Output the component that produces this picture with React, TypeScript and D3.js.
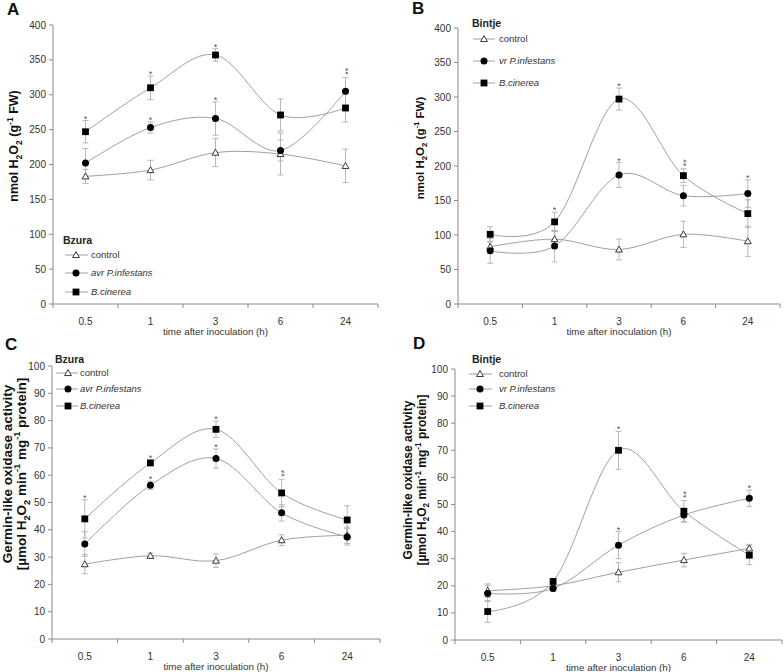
import React from "react";
import * as d3 from "d3";

const categories = ["0.5", "1", "3", "6", "24"];

// Panel A (Bzura, H2O2)
const aControl = [183, 192, 217, 215, 198];
const aControlErr = [10, 14, 20, 30, 24];
const aAvr = [202, 253, 266, 220, 305];
const aAvrErr = [21, 8, 24, 15, 20];
const aCin = [247, 310, 357, 271, 281];
const aCinErr = [16, 17, 9, 23, 20];
const aAvrSig = [0, 1, 1, 0, 2];
const aCinSig = [1, 1, 1, 0, 0];

// Panel B (Bintje, H2O2)
const bControl = [83, 94, 79, 101, 91];
const bControlErr = [8, 12, 15, 19, 22];
const bVr = [77, 84, 187, 157, 160];
const bVrErr = [18, 23, 18, 15, 20];
const bCin = [101, 119, 297, 186, 131];
const bCinErr = [11, 14, 16, 10, 20];
const bVrSig = [0, 0, 1, 0, 1];
const bCinSig = [0, 1, 1, 2, 0];

// Panel C (Bzura, germin-like oxidase)
const cControl = [27.4, 30.5, 28.7, 36.2, 38];
const cControlErr = [3.5, 1, 2.5, 2, 3];
const cAvr = [34.8, 56.3, 66.1, 46.2, 37.4];
const cAvrErr = [4.5, 1.5, 3.5, 3, 3];
const cCin = [44, 64.5, 76.8, 53.5, 43.6];
const cCinErr = [7, 1, 3, 5, 5.2];
const cAvrSig = [0, 1, 1, 0, 0];
const cCinSig = [1, 1, 1, 2, 0];

// Panel D (Bintje, germin-like oxidase)
const dControl = [18.2, 20, 25, 29.5, 33.8];
const dControlErr = [2.5, 1, 3.5, 2.5, 1.5];
const dVr = [17.2, 19, 35, 46.1, 52.3];
const dVrErr = [3, 1, 5, 2.5, 3];
const dCin = [10.5, 21.6, 70, 47.5, 31.3];
const dCinErr = [4, 1, 7, 4, 3.5];
const dVrSig = [0, 0, 1, 0, 1];
const dCinSig = [0, 0, 1, 2, 0];

const h2o2Ticks = [0, 50, 100, 150, 200, 250, 300, 350, 400];
const germinTicks = [0, 10, 20, 30, 40, 50, 60, 70, 80, 90, 100];

const FONT = "'Liberation Sans', Arial, sans-serif";
const zeros = [0, 0, 0, 0, 0];

type Part = { t: string; sub?: boolean; sup?: boolean };

function Rich({ parts, size }: { parts: Part[]; size: number }) {
  const out: React.ReactNode[] = [];
  let shift = 0;
  parts.forEach((p, i) => {
    const target = p.sub ? size * 0.3 : p.sup ? -size * 0.38 : 0;
    const dy = target - shift;
    shift = target;
    out.push(
      <tspan key={i} dy={dy} fontSize={p.sub || p.sup ? size * 0.68 : size}>
        {p.t}
      </tspan>
    );
  });
  return <>{out}</>;
}

type Series = {
  kind: "tri" | "circle" | "square";
  label: string;
  italic: boolean;
  values: number[];
  errs: number[];
  sig: number[];
};

function Marker({ kind, x, y }: { kind: string; x: number; y: number }) {
  if (kind === "square") return <rect x={x - 3.4} y={y - 3.4} width={6.8} height={6.8} fill="#000" />;
  if (kind === "circle") return <circle cx={x} cy={y} r={3.5} fill="#000" />;
  const s = 3.4;
  return (
    <path
      d={`M${x},${y - s} L${x + s},${y + s * 0.75} L${x - s},${y + s * 0.75} Z`}
      fill="#fff"
      stroke="#222"
      strokeWidth={0.9}
    />
  );
}

type PanelProps = {
  letter: string;
  letterX: number;
  letterY: number;
  left: number;
  right: number;
  top: number;
  bottom: number;
  yMax: number;
  yTicks: number[];
  series: Series[];
  titleLines: Part[][];
  titleXs: number[];
  titleY: number;
  titleSize: number;
  legendTitle: string;
  legendX: number;
  legendTitleY: number;
  legendRows: number[];
  legendLine: [number, number];
  legendMarkerX: number;
  legendTextX: number;
};

function Panel(p: PanelProps) {
  const x = d3.scaleBand<string>().domain(categories).range([p.left, p.right]);
  const y = d3.scaleLinear().domain([0, p.yMax]).range([p.bottom, p.top]);
  const cx = (c: string) => (x(c) as number) + x.bandwidth() / 2;
  const line = d3
    .line<number>()
    .x((_, i) => cx(categories[i]))
    .y((v) => y(v))
    .curve(d3.curveCatmullRom.alpha(0));
  const bounds = [...categories.map((c) => x(c) as number), p.right];
  const axisColor = "#8a8a8a";
  return (
    <g fontFamily={FONT}>
      <text x={p.letterX} y={p.letterY} fontSize={17} fontWeight="bold" fill="#111">
        {p.letter}
      </text>
      {/* axes */}
      <line x1={p.left} x2={p.left} y1={p.top} y2={p.bottom} stroke={axisColor} />
      <line x1={p.left} x2={p.right} y1={p.bottom} y2={p.bottom} stroke={axisColor} />
      {p.yTicks.map((t) => (
        <g key={t}>
          <line x1={p.left - 4} x2={p.left} y1={y(t)} y2={y(t)} stroke={axisColor} />
          <text x={p.left - 7} y={y(t)} dy="0.35em" textAnchor="end" fontSize={10} fill="#333">
            {t}
          </text>
        </g>
      ))}
      {bounds.map((b, i) => (
        <line key={i} x1={b} x2={b} y1={p.bottom} y2={p.bottom + 4} stroke={axisColor} />
      ))}
      {categories.map((c) => (
        <text key={c} x={cx(c)} y={p.bottom + 21} textAnchor="middle" fontSize={10} fill="#333">
          {c}
        </text>
      ))}
      <text
        x={(p.left + p.right) / 2}
        y={p.bottom + 30.5}
        textAnchor="middle"
        fontSize={9.8}
        fill="#333"
      >
        time after inoculation (h)
      </text>
      {/* y title */}
      {p.titleLines.map((parts, i) => (
        <text
          key={i}
          transform={`translate(${p.titleXs[i]},${p.titleY}) rotate(-90)`}
          textAnchor="middle"
          fontSize={p.titleSize}
          fontWeight="bold"
          fill="#111"
        >
          <Rich parts={parts} size={p.titleSize} />
        </text>
      ))}
      {/* curves */}
      {p.series.map((s, si) => (
        <path key={si} d={line(s.values) || ""} fill="none" stroke="#a0a0a0" strokeWidth={1} />
      ))}
      {/* error bars */}
      {p.series.map((s, si) =>
        s.values.map((v, i) => {
          const xx = cx(categories[i]);
          const y1 = y(v + s.errs[i]);
          const y2 = y(v - s.errs[i]);
          return (
            <g key={`e${si}-${i}`} stroke="#b0b0b0" strokeWidth={0.9}>
              <line x1={xx} x2={xx} y1={y1} y2={y2} />
              <line x1={xx - 3} x2={xx + 3} y1={y1} y2={y1} />
              <line x1={xx - 3} x2={xx + 3} y1={y2} y2={y2} />
            </g>
          );
        })
      )}
      {/* markers */}
      {p.series.map((s, si) =>
        s.values.map((v, i) => <Marker key={`m${si}-${i}`} kind={s.kind} x={cx(categories[i])} y={y(v)} />)
      )}
      {/* significance */}
      {p.series.map((s, si) =>
        s.sig.map((n, i) => {
          if (!n) return null;
          const top = y(s.values[i] + s.errs[i]);
          const xx = cx(categories[i]);
          if (n === 1) {
            return (
              <text key={`s${si}-${i}`} x={xx} y={top + 1} textAnchor="middle" fontSize={9} fill="#555">
                *
              </text>
            );
          }
          return (
            <text
              key={`s${si}-${i}`}
              transform={`translate(${xx + 5.1},${top - 2.5}) rotate(-90)`}
              fontSize={9}
              fill="#555"
            >
              {"*".repeat(n)}
            </text>
          );
        })
      )}
      {/* legend */}
      <text x={p.legendX} y={p.legendTitleY} fontSize={10.5} fontWeight="bold" fill="#222">
        {p.legendTitle}
      </text>
      {p.series.map((s, si) => (
        <g key={`l${si}`}>
          <line
            x1={p.legendLine[0]}
            x2={p.legendLine[1]}
            y1={p.legendRows[si]}
            y2={p.legendRows[si]}
            stroke="#a0a0a0"
          />
          <Marker kind={s.kind} x={p.legendMarkerX} y={p.legendRows[si]} />
          <text
            x={p.legendTextX}
            y={p.legendRows[si]}
            dy="0.35em"
            fontSize={9.5}
            fontStyle={s.italic ? "italic" : "normal"}
            fill="#333"
          >
            {s.label}
          </text>
        </g>
      ))}
    </g>
  );
}

const h2o2Title: Part[] = [
  { t: "nmol H" },
  { t: "2", sub: true },
  { t: "O" },
  { t: "2", sub: true },
  { t: " (g" },
  { t: "-1", sup: true },
  { t: " FW)" },
];
const germTitle1: Part[] = [{ t: "Germin-like oxidase activity" }];
const germTitle2: Part[] = [
  { t: "[µmol H" },
  { t: "2", sub: true },
  { t: "O" },
  { t: "2", sub: true },
  { t: " min" },
  { t: "-1", sup: true },
  { t: " mg" },
  { t: "-1", sup: true },
  { t: " protein]" },
];

export default function App() {
  const seriesA: Series[] = [
    { kind: "tri", label: "control", italic: false, values: aControl, errs: aControlErr, sig: zeros },
    { kind: "circle", label: "avr P.infestans", italic: true, values: aAvr, errs: aAvrErr, sig: aAvrSig },
    { kind: "square", label: "B.cinerea", italic: true, values: aCin, errs: aCinErr, sig: aCinSig },
  ];
  const seriesB: Series[] = [
    { kind: "tri", label: "control", italic: false, values: bControl, errs: bControlErr, sig: zeros },
    { kind: "circle", label: "vr P.infestans", italic: true, values: bVr, errs: bVrErr, sig: bVrSig },
    { kind: "square", label: "B.cinerea", italic: true, values: bCin, errs: bCinErr, sig: bCinSig },
  ];
  const seriesC: Series[] = [
    { kind: "tri", label: "control", italic: false, values: cControl, errs: cControlErr, sig: zeros },
    { kind: "circle", label: "avr P.infestans", italic: true, values: cAvr, errs: cAvrErr, sig: cAvrSig },
    { kind: "square", label: "B.cinerea", italic: true, values: cCin, errs: cCinErr, sig: cCinSig },
  ];
  const seriesD: Series[] = [
    { kind: "tri", label: "control", italic: false, values: dControl, errs: dControlErr, sig: zeros },
    { kind: "circle", label: "vr P.infestans", italic: true, values: dVr, errs: dVrErr, sig: dVrSig },
    { kind: "square", label: "B.cinerea", italic: true, values: dCin, errs: dCinErr, sig: dCinSig },
  ];
  return (
    <svg
      width={784}
      height={672}
      style={{ position: "absolute", left: 0, top: 0, background: "#fff" }}
    >
      <rect width={784} height={672} fill="#fff" />
      <Panel
        letter="A"
        letterX={7}
        letterY={15}
        left={53}
        right={378}
        top={25}
        bottom={304}
        yMax={400}
        yTicks={h2o2Ticks}
        series={seriesA}
        titleLines={[h2o2Title]}
        titleXs={[18]}
        titleY={146}
        titleSize={12.5}
        legendTitle="Bzura"
        legendX={63}
        legendTitleY={244}
        legendRows={[255, 273, 292]}
        legendLine={[65, 88]}
        legendMarkerX={76}
        legendTextX={91}
      />
      <Panel
        letter="B"
        letterX={412}
        letterY={14}
        left={458}
        right={780}
        top={28}
        bottom={304}
        yMax={400}
        yTicks={h2o2Ticks}
        series={seriesB}
        titleLines={[h2o2Title]}
        titleXs={[423.5]}
        titleY={148}
        titleSize={11.5}
        legendTitle="Bintje"
        legendX={472}
        legendTitleY={27}
        legendRows={[39, 61, 83]}
        legendLine={[473, 495]}
        legendMarkerX={484}
        legendTextX={499}
      />
      <Panel
        letter="C"
        letterX={5}
        letterY={350}
        left={52}
        right={380}
        top={366}
        bottom={639}
        yMax={100}
        yTicks={germinTicks}
        series={seriesC}
        titleLines={[germTitle1, germTitle2]}
        titleXs={[12, 25.5]}
        titleY={474}
        titleSize={13.5}
        legendTitle="Bzura"
        legendX={55}
        legendTitleY={363}
        legendRows={[373, 389, 406]}
        legendLine={[56, 78]}
        legendMarkerX={68}
        legendTextX={80}
      />
      <Panel
        letter="D"
        letterX={413}
        letterY={349}
        left={455}
        right={782}
        top={369}
        bottom={640}
        yMax={100}
        yTicks={germinTicks}
        series={seriesD}
        titleLines={[germTitle1, germTitle2]}
        titleXs={[411.5, 425.5]}
        titleY={480}
        titleSize={12}
        legendTitle="Bintje"
        legendX={472}
        legendTitleY={363}
        legendRows={[374, 389, 406]}
        legendLine={[469, 492]}
        legendMarkerX={480}
        legendTextX={499}
      />
    </svg>
  );
}
